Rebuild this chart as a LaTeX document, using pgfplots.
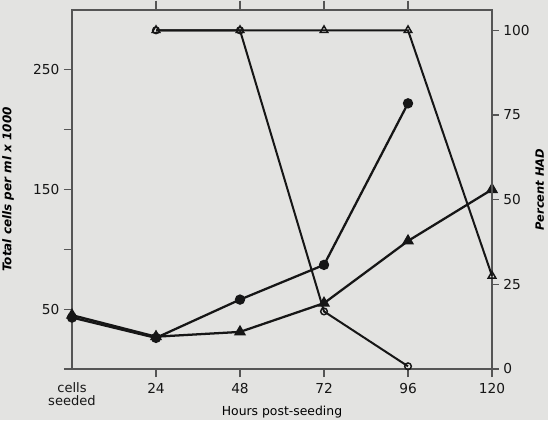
\documentclass[border=0pt]{standalone}
\usepackage{pgfplots}
\pgfplotsset{compat=1.18}
\usepackage{fontspec}
\setmainfont{DejaVu Sans}
\definecolor{bg}{RGB}{227,227,225}
\definecolor{ink}{RGB}{22,22,22}
\definecolor{axc}{RGB}{85,85,85}
\begin{document}
\begin{tikzpicture}
\fill[bg] (-54pt,-38.25pt) rectangle (357pt,276.75pt);
\useasboundingbox (-54pt,-38.25pt) rectangle (357pt,276.75pt);
\pgfplotsset{
  common/.style={
    at={(0,0)}, anchor=south west,
    scale only axis, width=315pt, height=269.25pt,
    xmin=0, xmax=120,
    tick align=outside,
    axis line style={axc, line width=0.9pt},
    every tick/.style={axc, line width=0.9pt},
    /pgf/number format/assume math mode=true,
    tick label style={font=\fontsize{10.3}{11}\selectfont, text=ink},
    clip=false,
  },
}
\begin{axis}[common,
  ymin=0, ymax=300,
  ytick={0,50,100,150,200,250},
  yticklabels={,50,,150,,250},
  ytick pos=left,
  xtick={24,48,72,96,120},
  xtick pos=lower,
  extra x ticks={0},
  extra x tick labels={{cells\\seeded}},
  extra x tick style={xtick style={draw=none}, xticklabel style={align=center, font=\fontsize{9.8}{9.5}\selectfont}},
  major tick length=6pt,
  xticklabel style={align=center, yshift=-1pt},
  every axis y label/.style={at={(axis description cs:-0.152,0.5)}, rotate=90, anchor=center},
  ylabel={\fontsize{9}{10}\selectfont\bfseries\itshape Total cells per ml x 1000},
  every axis x label/.style={at={(axis description cs:0.5,0)}, yshift=-32pt, anchor=center},
  xlabel={\fontsize{9.3}{10}\selectfont Hours post-seeding},
]
\addplot[ink, line width=1.7pt, mark=*, mark size=3pt, mark options={fill=ink, draw=ink}]
  coordinates {(0,43) (24,26) (48,58) (72,87) (96,222)};
\addplot[ink, line width=1.7pt, mark=triangle*, mark size=3.6pt, mark options={fill=ink, draw=ink}]
  coordinates {(0,45) (24,27) (48,31) (72,55) (96,107) (120,150)};
\end{axis}
\begin{axis}[common,
  ymin=0, ymax=300,
  axis y line=none,
  axis x line*=top,
  xtick={24,48,72,96},
  xticklabels={},
  major tick length=7pt,
]
\end{axis}
\begin{axis}[common,
  ymin=0, ymax=106,
  axis x line=none,
  axis y line*=right,
  ytick={0,25,50,75,100},
  major tick length=5pt,
  every axis y label/.style={at={(axis description cs:1.114,0.5)}, rotate=90, anchor=center},
  ylabel={\fontsize{8.6}{10}\selectfont\bfseries\itshape Percent HAD},
]
\addplot[ink, line width=1.5pt, mark=triangle, mark size=3.3pt, mark options={fill=bg, draw=ink, line width=1.1pt}]
  coordinates {(24,100) (48,100) (72,100) (96,100) (120,27.5)};
\addplot[ink, line width=1.5pt, mark=o, mark size=2.5pt, mark options={fill=bg, draw=ink, line width=1.1pt}]
  coordinates {(24,100) (48,100) (72,17) (96,0.8)};
\end{axis}
\end{tikzpicture}
\end{document}
